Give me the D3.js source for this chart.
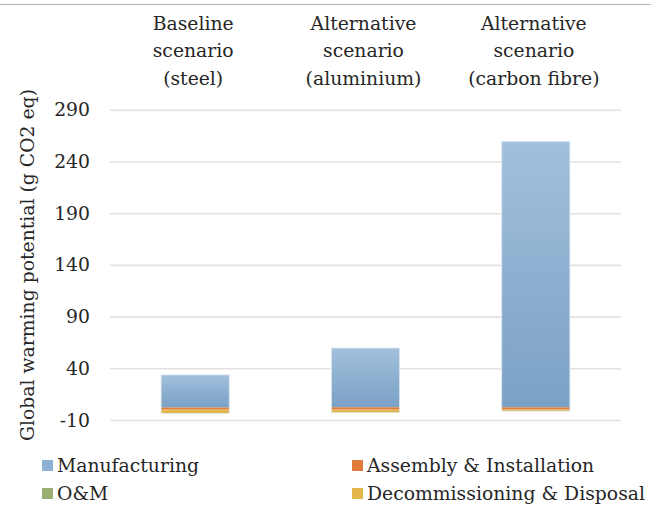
<!DOCTYPE html>
<html>
<head>
<meta charset="utf-8">
<script src="https://cdn.jsdelivr.net/npm/d3@7"></script>
<style>
  html, body { margin: 0; padding: 0; background: #fff; }
  svg { display: block; }
  text { font-family: "DejaVu Serif", "Liberation Serif", serif; fill: #262626; }
</style>
</head>
<body>
<svg id="chart" width="666" height="507"></svg>
<script>
// Life-cycle stages (stack keys) and their fills
const stages = ["Manufacturing", "Assembly & Installation", "O&M", "Decommissioning & Disposal"];
const stageColors = ["#8db2d5", "#e07b39", "#9aad72", "#e4b64e"];

// Scenarios, with their header lines
const scenarios = ["steel", "aluminium", "carbon fibre"];
const scenarioLines = [
  ["Baseline", "scenario", "(steel)"],
  ["Alternative", "scenario", "(aluminium)"],
  ["Alternative", "scenario", "(carbon fibre)"]
];

// Global warming potential per stage (g CO2 eq)
const manufacturing = [31.6, 57.3, 257.2];
const assembly = [1.9, 2.2, 2.0];
const operation = [0.1, 0.1, 0.2];
const decommissioning = [-3.6, -3.0, -1.4];

// Y axis tick values
const yTicks = [-10, 40, 90, 140, 190, 240, 290];

const rows = scenarios.map((s, i) => ({
  scenario: s,
  "Manufacturing": manufacturing[i],
  "Assembly & Installation": assembly[i],
  "O&M": operation[i],
  "Decommissioning & Disposal": decommissioning[i]
}));

const FS = 18.8;
const svg = d3.select("#chart");
const plot = { left: 110, right: 621, top: 109.8, bottom: 420 };

const x = d3.scaleBand()
  .domain(scenarios)
  .range([plot.left, plot.right])
  .paddingInner(0.6)
  .paddingOuter(0.3);

const y = d3.scaleLinear()
  .domain([-10, 290])
  .range([plot.bottom, plot.top]);

const color = d3.scaleOrdinal().domain(stages).range(stageColors);

// Frame line across the top
svg.append("line")
  .attr("x1", 0).attr("x2", 651)
  .attr("y1", 4.5).attr("y2", 4.5)
  .attr("stroke", "#b4b4b4").attr("stroke-width", 1);

// Gradient for the manufacturing fill
const defs = svg.append("defs");
const grad = defs.append("linearGradient")
  .attr("id", "mfgGrad")
  .attr("x1", 0).attr("y1", 0).attr("x2", 0).attr("y2", 1);
grad.append("stop").attr("offset", "0%").attr("stop-color", "#a2c0dc");
grad.append("stop").attr("offset", "100%").attr("stop-color", "#7aa1c5");

// Gridlines and tick labels (plain hyphen for negatives)
const yAxis = d3.axisLeft(y)
  .tickValues(yTicks)
  .tickSize(-(plot.right - plot.left))
  .tickPadding(20)
  .tickFormat(d => String(d));

const gy = svg.append("g")
  .attr("transform", `translate(${plot.left},0)`)
  .call(yAxis);
gy.select(".domain").remove();
gy.selectAll(".tick line")
  .attr("stroke", "#e6e0e0")
  .attr("stroke-width", 1.6);
gy.selectAll(".tick text")
  .attr("font-size", FS)
  .attr("fill", "#262626")
  .style("font-family", "\"DejaVu Serif\", serif");

// Stacked bars: positives stack upward from zero, negatives downward
const series = d3.stack()
  .keys(stages)
  .order(d3.stackOrderReverse)
  .offset(d3.stackOffsetDiverging)(rows);

svg.append("g")
  .selectAll("g")
  .data(series)
  .join("g")
  .attr("fill", d => d.key === "Manufacturing" ? "url(#mfgGrad)" : color(d.key))
  .selectAll("rect")
  .data(d => d)
  .join("rect")
  .attr("x", d => x(d.data.scenario))
  .attr("width", x.bandwidth())
  .attr("y", d => y(Math.max(d[0], d[1])))
  .attr("height", d => Math.abs(y(d[0]) - y(d[1])));

// Light edge around each full bar
svg.append("g")
  .selectAll("rect")
  .data(rows)
  .join("rect")
  .attr("x", d => x(d.scenario))
  .attr("width", x.bandwidth())
  .attr("y", d => y(d["Manufacturing"] + d["Assembly & Installation"] + d["O&M"]))
  .attr("height", d => y(d["Decommissioning & Disposal"]) - y(d["Manufacturing"] + d["Assembly & Installation"] + d["O&M"]))
  .attr("fill", "none")
  .attr("stroke", "#dbe7f2")
  .attr("stroke-width", 0.8);

// Scenario headers above the plot
const headers = svg.append("g")
  .selectAll("text")
  .data(scenarios)
  .join("text")
  .attr("text-anchor", "middle")
  .attr("font-size", FS)
  .attr("x", d => x(d) + x.bandwidth() / 2 - 2);
headers.selectAll("tspan")
  .data((d, i) => scenarioLines[i])
  .join("tspan")
  .attr("x", function () { return d3.select(this.parentNode).attr("x"); })
  .attr("y", (d, j) => 29.5 + j * 27.8)
  .text(d => d);

// Y axis title
svg.append("text")
  .attr("transform", "translate(34,265) rotate(-90)")
  .attr("text-anchor", "middle")
  .attr("font-size", FS)
  .text("Global warming potential (g CO2 eq)");

// Legend, two columns by two rows
const legend = svg.append("g")
  .selectAll("g")
  .data(stages)
  .join("g")
  .attr("transform", (d, i) => `translate(${i % 2 === 0 ? 42 : 352},${i < 2 ? 460 : 488})`);
legend.append("rect")
  .attr("width", 11).attr("height", 11)
  .attr("fill", d => color(d));
legend.append("text")
  .attr("x", 15).attr("y", 11.5)
  .attr("font-size", FS)
  .text(d => d);
</script>
</body>
</html>
